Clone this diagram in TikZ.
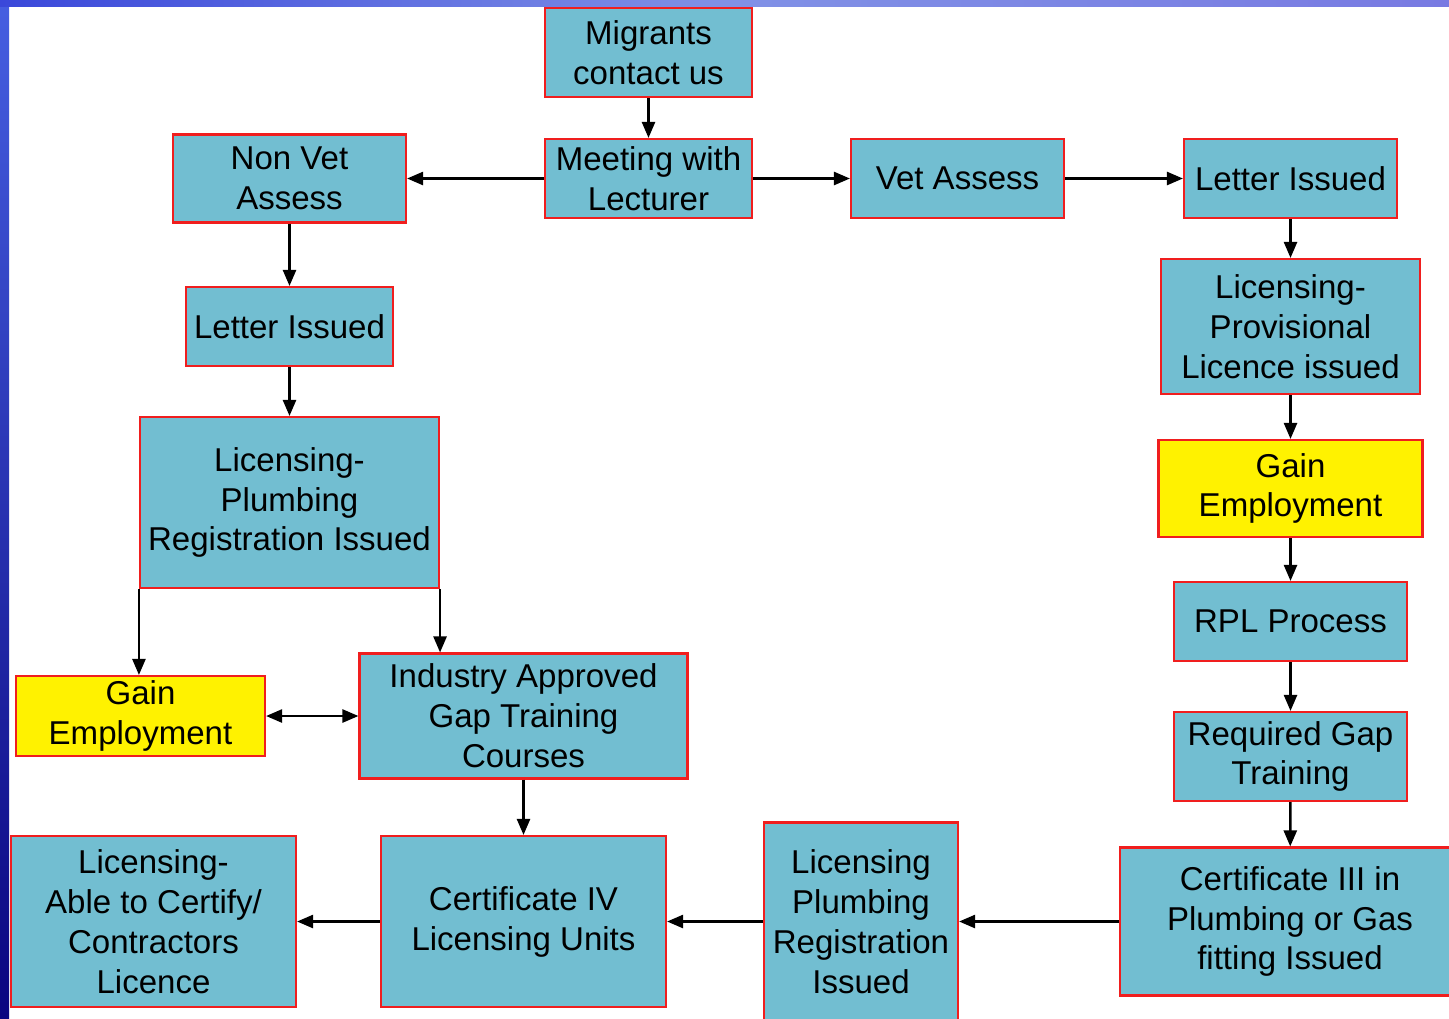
\documentclass[tikz,border=0pt]{standalone}
\usepackage{fontspec}
\setmainfont{Liberation Sans}
\usetikzlibrary{arrows.meta}
\definecolor{boxfill}{RGB}{114,190,209}
\definecolor{boxline}{RGB}{240,30,30}
\definecolor{bandtop}{RGB}{70,95,225}
\definecolor{bandbot}{RGB}{10,5,128}
\definecolor{topleft}{RGB}{58,72,218}
\definecolor{topmid}{RGB}{128,145,230}
\definecolor{topright}{RGB}{120,122,226}
\tikzset{
  bx/.style={draw=boxline, line width=1.2pt, fill=boxfill, rectangle, inner sep=0pt,
    align=center, text=black, font=\fontsize{18.8}{22.7}\selectfont},
  yb/.style={bx, fill=yellow},
  arr/.style={line width=1.4pt, draw=black, -{Triangle[length=0.32cm,width=0.26cm]}},
  darr/.style={line width=1.4pt, draw=black, {Triangle[length=0.32cm,width=0.26cm]}-{Triangle[length=0.32cm,width=0.26cm]}}
}
\begin{document}
\begin{tikzpicture}[x=0.02cm,y=-0.02cm]
\useasboundingbox (0,0) rectangle (1449,1018);
\clip (0,0) rectangle (1449,1018);
% background
\fill[white] (0,0) rectangle (1449,1018);
\shade[top color=bandtop, bottom color=bandbot] (0,0) rectangle (9,1018);
\shade[left color=topleft, right color=topright, middle color=topmid] (0,0) rectangle (1449,6);
% nodes
\node[bx, minimum width=207*0.02cm, minimum height=89*0.02cm] (mig) at (648.5,52.5) {Migrants\\contact us};
\node[bx, minimum width=207*0.02cm, minimum height=79*0.02cm] (meet) at (648.5,178.5) {Meeting with\\Lecturer};
\node[bx, minimum width=233*0.02cm, minimum height=88*0.02cm] (nonvet) at (289.5,178.5) {Non Vet\\Assess};
\node[bx, minimum width=213*0.02cm, minimum height=79*0.02cm] (vet) at (957.5,178.5) {Vet Assess};
\node[bx, minimum width=213*0.02cm, minimum height=79*0.02cm] (letR) at (1290.5,178.5) {Letter Issued};
\node[bx, minimum width=207*0.02cm, minimum height=79*0.02cm] (letL) at (289.5,326.5) {Letter Issued};
\node[bx, minimum width=299*0.02cm, minimum height=171*0.02cm] (licPR) at (289.5,502.5) {Licensing-\\Plumbing\\Registration Issued};
\node[bx, minimum width=259*0.02cm, minimum height=135*0.02cm] (prov) at (1290.5,326.5) {Licensing-\\Provisional\\Licence issued};
\node[yb, minimum width=264*0.02cm, minimum height=97*0.02cm] (gainR) at (1290.5,488.5) {Gain\\Employment};
\node[bx, minimum width=233*0.02cm, minimum height=79*0.02cm] (rpl) at (1290.5,621.5) {RPL Process};
\node[bx, minimum width=233*0.02cm, minimum height=89*0.02cm] (req) at (1290.5,756.5) {Required Gap\\Training};
\node[bx, minimum width=340*0.02cm, minimum height=148*0.02cm] (cert3) at (1290,921.5) {Certificate III in\\Plumbing or Gas\\fitting Issued};
\node[bx, minimum width=194*0.02cm, minimum height=198*0.02cm] (licB) at (861,921.5) {Licensing\\Plumbing\\Registration\\Issued};
\node[bx, minimum width=285*0.02cm, minimum height=171*0.02cm] (cert4) at (523.5,921.5) {Certificate IV\\Licensing Units};
\node[bx, minimum width=285*0.02cm, minimum height=171*0.02cm] (able) at (153.5,921.5) {Licensing-\\Able to Certify/\\Contractors\\Licence};
\node[yb, minimum width=249*0.02cm, minimum height=80*0.02cm] (gainL) at (140.5,716) {Gain\\Employment};
\node[bx, minimum width=328*0.02cm, minimum height=125*0.02cm] (ind) at (523.5,716) {Industry Approved\\Gap Training\\Courses};
% connectors
\draw[arr] (mig) -- (meet);
\draw[arr] (meet) -- (nonvet);
\draw[arr] (meet) -- (vet);
\draw[arr] (vet) -- (letR);
\draw[arr] (nonvet) -- (letL);
\draw[arr] (letL) -- (licPR);
\draw[arr] (letR) -- (prov);
\draw[arr] (prov) -- (gainR);
\draw[arr] (gainR) -- (rpl);
\draw[arr] (rpl) -- (req);
\draw[arr] (req) -- (cert3);
\draw[arr] (cert3.west) -- (licB.east |- cert3.west);
\draw[arr] (licB.west |- cert4.east) -- (cert4.east);
\draw[arr] (cert4) -- (able);
\draw[arr] (ind) -- (cert4);
\draw[darr] (gainL) -- (ind);
\draw[arr] (licPR.south west) -- (licPR.south west |- gainL.north);
\draw[arr] (licPR.south east) -- (licPR.south east |- ind.north);
\end{tikzpicture}
\end{document}
